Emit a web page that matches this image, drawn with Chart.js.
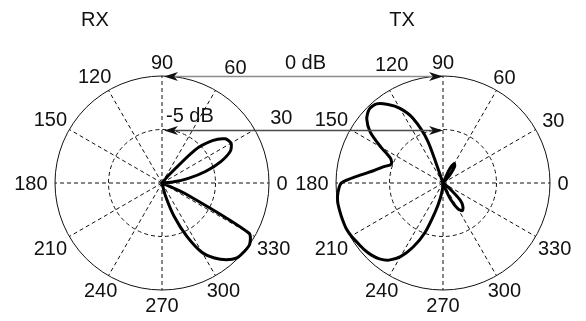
<!DOCTYPE html>
<html>
<head>
<meta charset="utf-8">
<script src="https://cdn.jsdelivr.net/npm/chart.js"></script>
<style>
    html, body { margin: 0; padding: 0; background: #fff; }
    #quadro { position: relative; width: 586px; height: 321px; }
    #quadro canvas { position: absolute; left: 0; top: 0; }
</style>
</head>
<body>
<div id="quadro">
    <canvas id="graficoRX" width="586" height="321"></canvas>
    <canvas id="graficoTX" width="586" height="321"></canvas>
</div>
<script>
// angulos (graus) em que o diagrama foi lido
const angulos = [
    0, 5, 10, 15, 20, 25, 30, 35, 40, 45, 50, 55,
    60, 65, 70, 75, 80, 85, 90, 95, 100, 105, 110, 115,
    120, 125, 130, 135, 140, 145, 150, 155, 160, 165, 170, 175,
    180, 185, 190, 195, 200, 205, 210, 215, 220, 225, 230, 235,
    240, 245, 250, 255, 260, 265, 270, 275, 280, 285, 290, 295,
    300, 305, 310, 315, 320, 325, 330, 335, 340, 345, 350, 355
];

// ganho normalizado em dB (centro = -10 dB)
const ganhoRX = [
    -10, -9.0, -7.5, -5.75, -4.15, -2.95, -2.55, -2.8, -3.85, -5.65, -9.2, -10,
    -10, -10, -10, -10, -10, -10, -10, -10, -10, -10, -10, -10,
    -10, -10, -10, -10, -10, -10, -10, -10, -10, -10, -10, -10,
    -10, -10, -10, -10, -10, -10, -10, -10, -10, -10, -10, -10,
    -10, -10, -10, -10, -10, -10, -10, -10, -10, -8.8, -6.7, -4.5,
    -2.5, -1.45, -0.65, -0.1, 0, 0, -0.6, -7.4, -10, -10, -10, -10
];

const ganhoTX = [
    -10, -10, -10, -10, -10, -10, -10, -10, -10, -10, -9.0, -8.1,
    -7.9, -8.6, -10, -10, -10, -10, -10, -10, -10, -10, -5.8, -3.3,
    -1.95, -1.05, -0.35, -0.25, -0.7, -1.7, -3.3, -4.6, -4.85, -4.2, -3.4, -2.1,
    -0.5, -0.15, 0, 0, 0, 0, -0.1, -0.25, -0.35, -0.5, -0.75, -1.2,
    -2.05, -3.4, -5.05, -7.2, -8.55, -9.45, -10, -10, -10, -10, -9.6, -8.3,
    -7.2, -6.85, -7.1, -7.7, -9.2, -10, -10, -10, -10, -10, -10, -10
];

const rotulosAngulo = [0, 30, 60, 90, 120, 150, 180, 210, 240, 270, 300, 330];
const niveisSeta = [0, -5];
const rotulosSeta = ['0 dB', '-5 dB'];
const titulos = ['RX', 'TX'];

const fonte = '20px "Liberation Sans", Arial, sans-serif';
Chart.defaults.font.family = '"Liberation Sans", Arial, sans-serif';

// o radar vai no sentido horario a partir do topo; o diagrama polar vai no anti-horario a partir da direita
const ordemRadar = [];
for (let k = 0; k < angulos.length; k++) {
    const a = ((90 - k * 5) % 360 + 360) % 360;
    ordemRadar.push(angulos.indexOf(a));
}
function indiceRadar(angulo) {
    return ordemRadar.indexOf(angulos.indexOf(angulo));
}

const rotulosPolares = {
    id: 'rotulosPolares',
    afterDraw(chart, args, opts) {
        const r = chart.scales.r;
        const ctx = chart.ctx;
        ctx.save();
        ctx.font = fonte;
        ctx.fillStyle = '#111';
        ctx.textAlign = 'center';
        ctx.textBaseline = 'alphabetic';
        const meiaA = 7.2;
        rotulosAngulo.forEach(a => {
            const texto = String(a);
            const meiaL = ctx.measureText(texto).width / 2;
            const rad = a * Math.PI / 180;
            const c = Math.abs(Math.cos(rad)), s = Math.abs(Math.sin(rad));
            const ext = Math.min(c > 1e-6 ? meiaL / c : Infinity, s > 1e-6 ? meiaA / s : Infinity);
            const p = r.getPointPosition(indiceRadar(a), r.drawingArea + 7.5 + ext);
            const aj = (opts.ajustes && opts.ajustes[a]) || [0, 0];
            ctx.fillText(texto, p.x + aj[0], p.y + meiaA + aj[1]);
        });
        ctx.fillText(opts.titulo, r.xCenter + opts.tituloDx, 26);
        ctx.restore();
    }
};

function desenharCabeca(ctx, x, y, dir) {
    const L = 14, W = 4.5;
    ctx.beginPath();
    ctx.moveTo(x, y);
    ctx.lineTo(x - dir * L, y - W);
    ctx.lineTo(x - dir * L * 0.72, y);
    ctx.lineTo(x - dir * L, y + W);
    ctx.closePath();
    ctx.fill();
}

let chartRX;
const setas = {
    id: 'setas',
    afterDraw(chart) {
        const rL = chartRX.scales.r, rR = chart.scales.r;
        const ctx = chart.ctx;
        const cores = ['#8c8c8c', '#4a4a4a'];
        ctx.save();
        niveisSeta.forEach((nivel, k) => {
            const pL = rL.getPointPositionForValue(indiceRadar(90), nivel);
            const pR = rR.getPointPositionForValue(indiceRadar(90), nivel);
            const y = Math.round(pL.y) + 0.5;
            const x1 = pL.x + 2, x2 = pR.x;
            ctx.strokeStyle = cores[k];
            ctx.lineWidth = 1.4;
            ctx.beginPath();
            ctx.moveTo(x1 + 8, y);
            ctx.lineTo(x2 - 8, y);
            ctx.stroke();
            ctx.fillStyle = '#111';
            desenharCabeca(ctx, x1, y, -1);
            desenharCabeca(ctx, x2, y, 1);
            ctx.font = fonte;
            if (k === 0) {
                ctx.textAlign = 'center';
                ctx.fillText(rotulosSeta[k], (x1 + x2) / 2 + 2, y - 8);
            } else {
                ctx.textAlign = 'left';
                ctx.fillText(rotulosSeta[k], x1 + 2, y - 9);
            }
        });
        ctx.restore();
    }
};

function criarPolar(idCanvas, ganho, padding, extras, plugins) {
    const ctx = document.getElementById(idCanvas).getContext('2d');
    return new Chart(ctx, {
        type: 'radar',
        data: {
            labels: ordemRadar.map(i => String(angulos[i])),
            datasets: [{
                data: ordemRadar.map(i => ganho[i]),
                borderColor: '#000',
                borderWidth: 3,
                borderJoinStyle: 'round',
                borderCapStyle: 'round',
                pointRadius: 0,
                fill: false,
                tension: 0.25,
                clip: false
            }]
        },
        options: {
            responsive: false,
            animation: false,
            layout: { padding: padding },
            plugins: {
                legend: { display: false },
                tooltip: { enabled: false },
                rotulosPolares: extras
            },
            scales: {
                r: {
                    min: -10,
                    max: 0,
                    startAngle: 0,
                    ticks: { display: false, stepSize: 5 },
                    pointLabels: { display: false },
                    grid: { circular: true, color: '#111', lineWidth: 1 },
                    border: { dash: ctx => (ctx.tick && ctx.tick.value === 0) ? [] : [4, 3] },
                    angleLines: {
                        color: '#111',
                        lineWidth: ctx => ctx.index % 6 === 0 ? 1 : 0,
                        borderDash: [4, 3]
                    }
                }
            }
        },
        plugins: plugins
    });
}

chartRX = criarPolar('graficoRX', ganhoRX,
    { left: 55, right: 317, top: 76, bottom: 31 },
    { titulo: titulos[0], tituloDx: -67, ajustes: { 30: [9, -3], 60: [12, -10], 120: [-6, -1] } },
    [rotulosPolares]);

const chartTX = criarPolar('graficoTX', ganhoTX,
    { left: 336, right: 36, top: 76, bottom: 31 },
    { titulo: titulos[1], tituloDx: -41, ajustes: { 120: [10, -13] } },
    [rotulosPolares, setas]);
</script>
</body>
</html>
